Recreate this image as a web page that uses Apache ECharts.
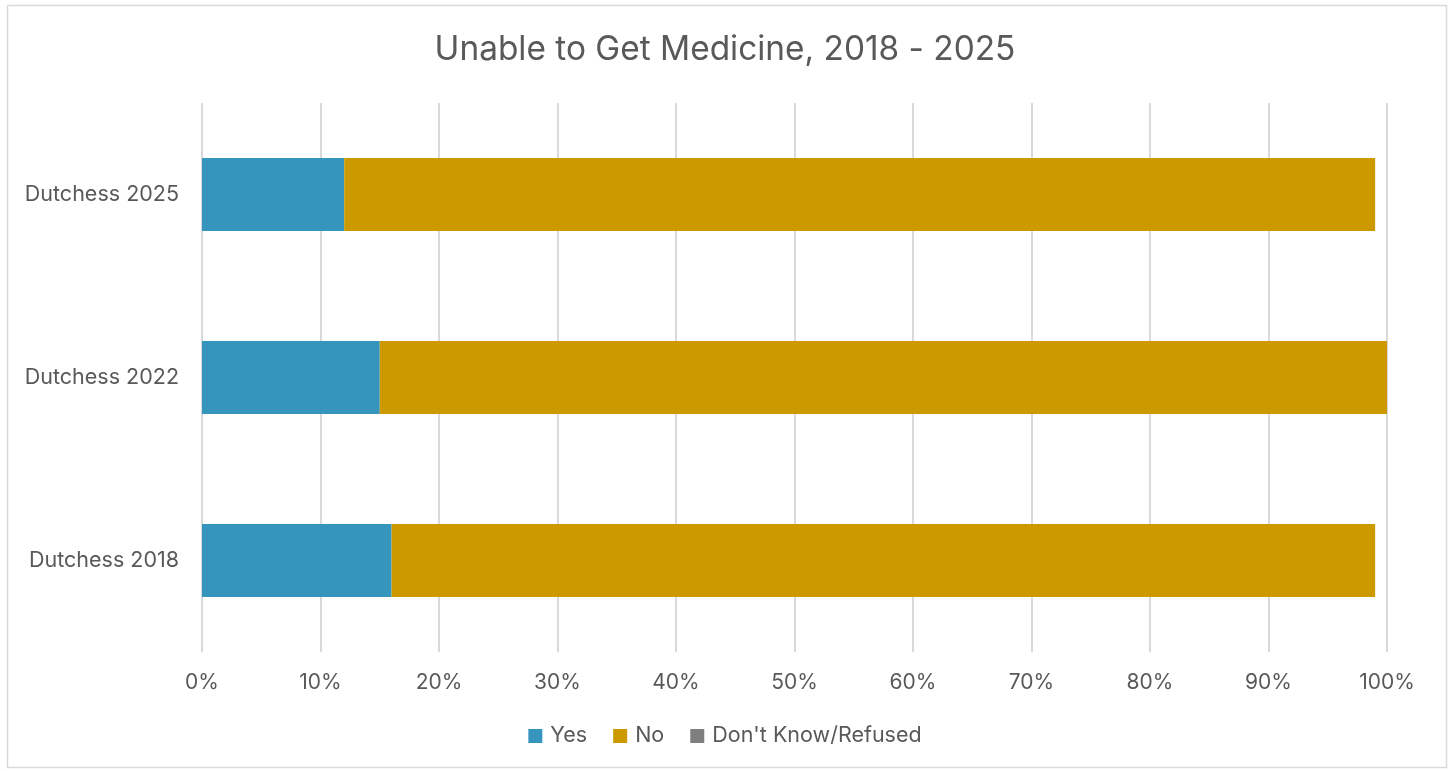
<!DOCTYPE html>
<html>
<head>
<meta charset="utf-8">
<script src="https://cdn.jsdelivr.net/npm/echarts@6/dist/echarts.min.js"></script>
<style>
  html, body { margin: 0; padding: 0; background: #fff; }
  #chart { width: 1450px; height: 771px; }
</style>
</head>
<body>
<div id="chart"></div>
<script>
// categories, bottom to top
var categories = ['Dutchess 2018', 'Dutchess 2022', 'Dutchess 2025'];
var yesValues = [16, 15, 12];
var noValues = [83, 85, 87];
var dkValues = [0, 0, 0];
var tickLabels = ['0%', '10%', '20%', '30%', '40%', '50%', '60%', '70%', '80%', '90%', '100%'];

var chart = echarts.init(document.getElementById('chart'));
var textColor = '#595959';

var option = {
    animation: false,
    title: {
        text: 'Unable to Get Medicine, 2018 - 2025',
        left: 'center',
        top: 28,
        textStyle: { color: textColor, fontSize: 33.4, fontWeight: 'normal', fontFamily: 'Inter' }
    },
    legend: {
        bottom: 19,
        left: 'center',
        itemWidth: 14,
        itemHeight: 14,
        itemGap: 26,
        icon: 'rect',
        textStyle: { color: textColor, fontSize: 21.5, fontFamily: 'Inter', padding: [0, 0, 0, 3] },
        data: ['Yes', 'No', "Don't Know/Refused"]
    },
    grid: {
        left: 202,
        right: 63,
        top: 103,
        bottom: 119
    },
    xAxis: {
        type: 'value',
        min: 0,
        max: 100,
        interval: 10,
        axisLine: { show: false },
        axisTick: { show: false },
        splitLine: { lineStyle: { color: '#d9d9d9', width: 2 } },
        axisLabel: {
            color: textColor,
            fontSize: 21,
            fontFamily: 'Inter',
            margin: 20,
            formatter: function (v) { return tickLabels[Math.round(v / 10)]; }
        }
    },
    yAxis: {
        type: 'category',
        data: categories,
        axisLine: { show: false },
        axisTick: { show: false },
        axisLabel: { color: textColor, fontSize: 21.5, fontFamily: 'Inter', margin: 23 }
    },
    series: [
        {
            name: 'Yes', type: 'bar', stack: 'total', barWidth: 73,
            itemStyle: { color: '#3595bc' }, data: yesValues
        },
        {
            name: 'No', type: 'bar', stack: 'total', barWidth: 73,
            itemStyle: { color: '#cc9a00' }, data: noValues
        },
        {
            name: "Don't Know/Refused", type: 'bar', stack: 'total', barWidth: 73,
            itemStyle: { color: '#7f7f7f' }, data: dkValues
        }
    ],
    graphic: [{
        type: 'rect',
        shape: { x: 7.5, y: 5.5, width: 1439, height: 762 },
        style: { fill: 'none', stroke: '#d9d9d9', lineWidth: 1.5 },
        silent: true
    }]
};
chart.setOption(option);
</script>
</body>
</html>
